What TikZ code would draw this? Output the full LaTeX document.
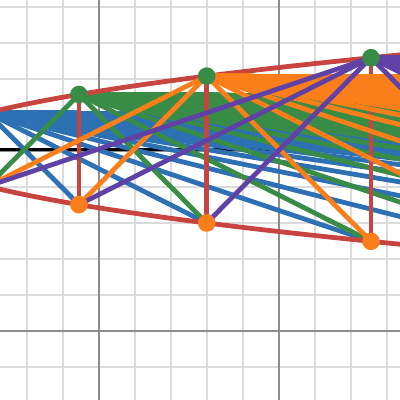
\documentclass[tikz,border=0pt]{standalone}
\usepackage{tikz}

\definecolor{plotred}{HTML}{C74440}
\definecolor{plotblue}{HTML}{2D70B3}
\definecolor{plotgreen}{HTML}{388C46}
\definecolor{plotpurple}{HTML}{6042A6}
\definecolor{plotorange}{HTML}{FA7E19}

\newcommand{\ctry}{5.04}
\newcommand{\kxa}{0.507}
\newcommand{\kxb}{5.12}
\newcommand{\kwh}{0.51}

\newcommand{\fanlines}[2]{%
  \foreach \n in {2,...,7}{%
    \ifnum\n=#1\relax\else
      \draw[fan,draw=#2] (T#1) -- (B\n);
    \fi
  }%
  \foreach \n in {8,...,170}{%
    \pgfmathsetmacro{\ye}{\ctry+\kwh*#1-\kwh/\kxa*(8.5-(\kxa*#1*#1-\kxb))/(\n-#1)}%
    \coordinate (E) at (8.5,\ye);
    \draw[fan,draw=#2] (T#1) -- (E);
  }%
}

\begin{document}
\begin{tikzpicture}[x=0.9cm,y=0.9cm,
  minor/.style={draw=black!14,line width=1.4pt},
  major/.style={draw=black!45,line width=1.4pt},
  fan/.style={line width=3.4pt,line cap=round},
  rim/.style={draw=plotred,line width=3.4pt,line cap=round},
  topdot/.style={circle,fill=plotgreen,inner sep=0pt,minimum size=0.44cm},
  botdot/.style={circle,fill=plotorange,inner sep=0pt,minimum size=0.44cm}]
\useasboundingbox (-2.75,-1.917) rectangle (8.361,9.194);
\clip (-2.75,-1.917) rectangle (8.361,9.194);
\fill[white] (-2.75,-1.917) rectangle (8.361,9.194);
\foreach \x in {-2,...,8} \draw[minor] (\x,-2) -- (\x,9.3);
\foreach \y in {-1,...,9} \draw[minor] (-2.8,\y) -- (8.4,\y);
\foreach \x in {0,5} \draw[major] (\x,-2) -- (\x,9.3);
\foreach \y in {0,5} \draw[major] (-2.8,\y) -- (8.4,\y);

\foreach \m in {2,...,7}{
  \coordinate (T\m) at ({\kxa*\m*\m-\kxb},{\ctry+\kwh*\m});
  \coordinate (B\m) at ({\kxa*\m*\m-\kxb},{\ctry-\kwh*\m});
}
\coordinate (L) at (-2.8,\ctry);
\coordinate (R) at (8.4,\ctry);
\draw[black,line width=2.4pt] (L) -- (R);

\fanlines{2}{plotblue}
\fanlines{3}{plotgreen}
\draw[rim] plot[domain=0:6.5,samples=80] ({\kxa*\x*\x-\kxb},{\ctry+\kwh*\x});
\draw[rim] plot[domain=0:6.5,samples=80] ({\kxa*\x*\x-\kxb},{\ctry-\kwh*\x});
\foreach \m in {2,...,5} \draw[rim] (T\m) -- (B\m);
\fanlines{4}{plotorange}
\fanlines{5}{plotpurple}

\foreach \m in {2,...,7}{
  \node[topdot] (t\m) at (T\m) {};
  \node[botdot] (b\m) at (B\m) {};
}
\end{tikzpicture}
\end{document}
